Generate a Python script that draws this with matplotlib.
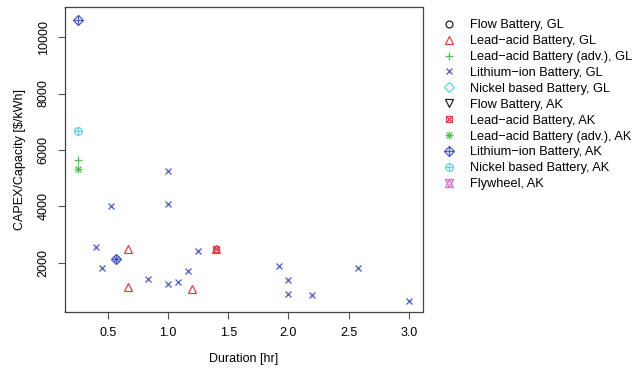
import matplotlib
matplotlib.use("Agg")
import matplotlib.pyplot as plt
from matplotlib.lines import Line2D
from matplotlib.legend_handler import HandlerTuple

# ---- data ----
li_gl_x = [0.53, 1.0, 1.0, 0.40, 0.45, 0.57, 0.83, 1.0, 1.08, 1.17, 1.25, 1.92, 2.0, 2.0, 2.2, 2.58, 3.0]
li_gl_y = [4000, 5250, 4080, 2560, 1810, 2150, 1410, 1260, 1330, 1720, 2430, 1900, 1390, 890, 860, 1800, 665]
pb_gl_x = [0.67, 0.67, 1.2, 1.4]
pb_gl_y = [2500, 1160, 1060, 2490]
pbadv_gl_x = [0.25]
pbadv_gl_y = [5650]
pb_ak_x = [1.4]
pb_ak_y = [2490]
pbadv_ak_x = [0.25]
pbadv_ak_y = [5330]
li_ak_x = [0.25, 0.57]
li_ak_y = [10600, 2150]
ni_ak_x = [0.25]
ni_ak_y = [6680]
x_ticks = [0.5, 1.0, 1.5, 2.0, 2.5, 3.0]
y_ticks = [2000, 4000, 6000, 8000, 10000]

BLACK = "#222222"
RED = "#E0404A"
GREEN = "#55C055"
BLUE = "#4A5BC0"
CYAN = "#66D0E0"
MAG = "#D070C8"

plt.rcParams['font.family'] = ['Liberation Sans', 'DejaVu Sans']
fig = plt.figure(figsize=(6.36, 3.69), dpi=100)
ax = fig.add_axes([0.102, 0.155, 0.563, 0.826])

ms = 5
lw = 0.9

def mk(marker, color, size=ms):
    return dict(marker=marker, linestyle='none', markersize=size, markerfacecolor='none',
                markeredgecolor=color, markeredgewidth=lw)

# draw points
ax.plot(li_gl_x, li_gl_y, **mk('x', BLUE))
ax.plot(pb_gl_x, pb_gl_y, **mk('^', RED, 5.5))
ax.plot(pbadv_gl_x, pbadv_gl_y, **mk('+', GREEN, 6))
ax.plot(pb_ak_x, pb_ak_y, **mk('s', RED, 5))
ax.plot(pb_ak_x, pb_ak_y, **mk('x', RED, 5))
ax.plot(pbadv_ak_x, pbadv_ak_y, **mk('+', GREEN, 6))
ax.plot(pbadv_ak_x, pbadv_ak_y, **mk('x', GREEN, 5))
ax.plot(li_ak_x, li_ak_y, **mk('D', BLUE, 5))
ax.plot(li_ak_x, li_ak_y, **mk('+', BLUE, 7))
ax.plot(ni_ak_x, ni_ak_y, **mk('o', CYAN, 5.5))
ax.plot(ni_ak_x, ni_ak_y, **mk('+', CYAN, 5.5))

ax.set_xlim(0.143, 3.118)
ax.set_ylim(265, 11065)
ax.set_xticks(x_ticks)
ax.set_xticklabels([f"{v:.1f}" for v in x_ticks])
ax.set_yticks(y_ticks)
ax.set_yticklabels([str(v) for v in y_ticks], rotation=90, va='center')
ax.tick_params(direction='out', length=5, width=0.8, colors='#555555', labelcolor='black', labelsize=9, pad=6)
for s in ax.spines.values():
    s.set_color('#444444')
    s.set_linewidth(0.9)
ax.set_xlabel("Duration [hr]", fontsize=9, labelpad=10)
ax.set_ylabel("CAPEX/Capacity [$/kWh]", fontsize=9, labelpad=8)

# legend
def L(*specs):
    return tuple(Line2D([], [], **mk(m, c, s)) for m, c, s in specs)

handles = [
    L(('o', BLACK, 5)),
    L(('^', RED, 5.5)),
    L(('+', GREEN, 6)),
    L(('x', BLUE, 5)),
    L(('D', CYAN, 5)),
    L(('v', BLACK, 5.5)),
    L(('s', RED, 5), ('x', RED, 5)),
    L(('+', GREEN, 6), ('x', GREEN, 5)),
    L(('D', BLUE, 5), ('+', BLUE, 7)),
    L(('o', CYAN, 5.5), ('+', CYAN, 5.5)),
    L(('^', MAG, 5.5), ('v', MAG, 5.5)),
]
labels = ["Flow Battery, GL", "Lead\u2212acid Battery, GL", "Lead\u2212acid Battery (adv.), GL",
          "Lithium\u2212ion Battery, GL", "Nickel based Battery, GL", "Flow Battery, AK",
          "Lead\u2212acid Battery, AK", "Lead\u2212acid Battery (adv.), AK", "Lithium\u2212ion Battery, AK",
          "Nickel based Battery, AK", "Flywheel, AK"]
fig.legend(handles, labels, loc='upper left', bbox_to_anchor=(0.68, 0.972), frameon=False,
           fontsize=9.2, handler_map={tuple: HandlerTuple(ndivide=1)},
           handlelength=1.2, handletextpad=1.0, labelspacing=0.305, borderpad=0.2)

fig.savefig("out.png", dpi=100)
